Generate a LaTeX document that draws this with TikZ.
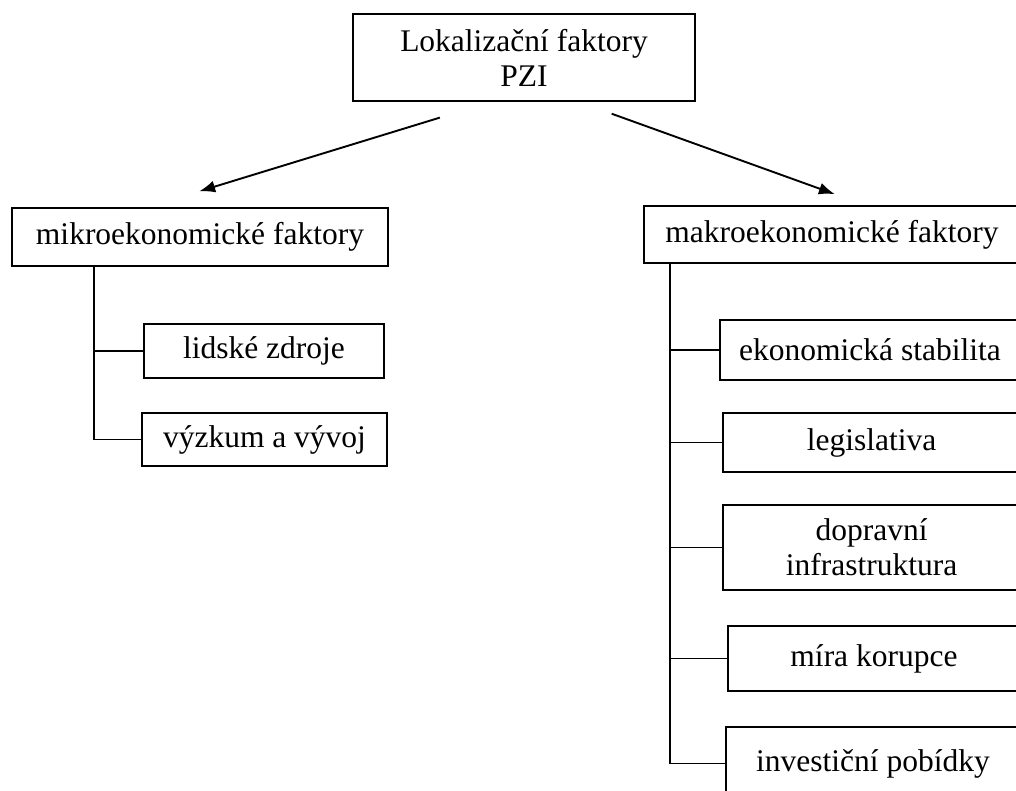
\documentclass[tikz,border=0pt]{standalone}
\usepackage{fontspec}
\setmainfont{Liberation Serif}
\newfontfamily\boxfont{Liberation Serif}
\usetikzlibrary{arrows.meta}
\tikzset{
  box/.style={shape=rectangle, draw=black, line width=1.9pt, align=center, inner sep=0pt, font=\boxfont\fontsize{31.5}{35}\selectfont},
  arr/.style={-{Latex[length=16pt,width=12pt]}, line width=1.9pt},
  branch/.style={line width=1.9pt}
}
\begin{document}
\begin{tikzpicture}[x=1pt, y=-1pt]
    \useasboundingbox (0,0) rectangle (1016,791);
    \clip (0,0) rectangle (1016,791);
    \node[box, minimum width=342, minimum height=87] (top) at (524,57.5) {Lokalizační faktory\\PZI};
    \node[box, minimum width=376, minimum height=58] (mikro) at (200,237) {mikroekonomické faktory};
    \node[box, minimum width=240, minimum height=54] (lidske) at (264,351) {lidské zdroje};
    \node[box, minimum width=245, minimum height=53] (vyzkum) at (264.5,439.5) {výzkum a vývoj};
    \node[box, minimum width=376, minimum height=57] (makro) at (832,234.5) {makroekonomické faktory};
    \node[box, minimum width=300, minimum height=60] (eko) at (870,350) {ekonomická stabilita};
    \node[box, minimum width=297, minimum height=59] (leg) at (871.5,442.5) {legislativa};
    \node[box, minimum width=297, minimum height=85] (dop) at (871.5,547.5) {dopravní\\infrastruktura};
    \node[box, minimum width=292, minimum height=65] (mira) at (874,658.5) {míra korupce};
    \node[box, minimum width=294, minimum height=73] (inv) at (873,763.5) {investiční pobídky};
    % arrows from the top box
    \draw[arr, shorten <=53.5, shorten >=53.5] ([xshift=-33]top.south) -- ([xshift=-52]mikro.north);
    \draw[arr, shorten <=34.8, shorten >=32] ([xshift=55]top.south) -- ([xshift=33]makro.north);
    % left tree
    \coordinate (trunkL) at ([xshift=-106]mikro.south);
    \draw[branch] (trunkL) |- (vyzkum.west);
    \draw[branch] (lidske.west) -- (lidske.west -| trunkL);
    % right tree
    \coordinate (trunkR) at ([xshift=-162]makro.south);
    \draw[branch] (trunkR) |- (inv.west);
    \draw[branch] (eko.west) -- (eko.west -| trunkR);
    \draw[branch] (leg.west) -- (leg.west -| trunkR);
    \draw[branch] (dop.west) -- (dop.west -| trunkR);
    \draw[branch] (mira.west) -- (mira.west -| trunkR);
\end{tikzpicture}
\end{document}
